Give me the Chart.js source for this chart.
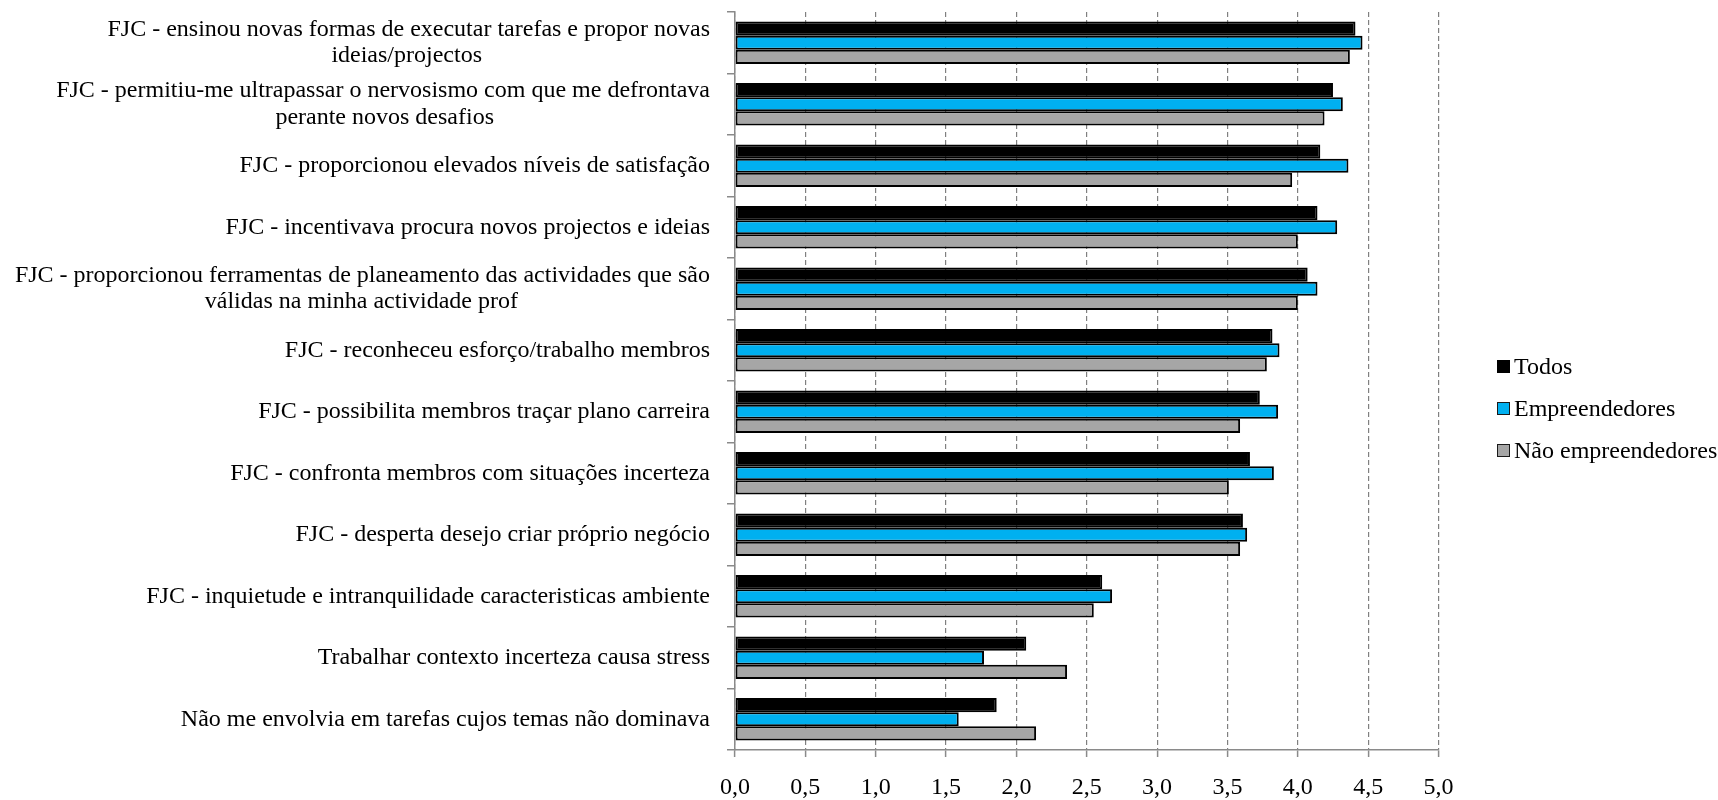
<!DOCTYPE html>
<html>
<head>
<meta charset="utf-8">
<script src="https://cdn.jsdelivr.net/npm/chart.js@4.4.1/dist/chart.umd.min.js"></script>
<style>
html,body{margin:0;padding:0;background:#fff;}
#wrap{position:relative;width:1718px;height:800px;}
#legend{position:absolute;left:1497px;top:345px;font-family:"Liberation Serif","Times New Roman",serif;font-size:24px;color:#000;}
.item{display:flex;align-items:center;height:42px;white-space:nowrap;}
.sw{width:13px;height:13px;box-sizing:border-box;border:1.5px solid #1a1a1a;margin-right:4px;flex:none;}
</style>
</head>
<body>
<div id="wrap"><canvas id="c" width="1718" height="800"></canvas><div id="legend"></div></div>
<script>
const categories = [
  ["FJC - ensinou novas formas de executar tarefas e propor novas", "ideias/projectos"],
  ["FJC - permitiu-me ultrapassar o nervosismo com que me defrontava", "perante novos desafios"],
  ["FJC - proporcionou elevados níveis de satisfação"],
  ["FJC - incentivava procura novos projectos e ideias"],
  ["FJC - proporcionou ferramentas de planeamento das actividades que são", "válidas na minha actividade prof"],
  ["FJC - reconheceu esforço/trabalho membros"],
  ["FJC - possibilita membros traçar plano carreira"],
  ["FJC - confronta membros com situações incerteza"],
  ["FJC - desperta desejo criar próprio negócio"],
  ["FJC - inquietude e intranquilidade caracteristicas ambiente"],
  ["Trabalhar contexto incerteza causa stress"],
  ["Não me envolvia em tarefas cujos temas não dominava"]
];
const seriesNames = ["Todos", "Empreendedores", "Não empreendedores"];
const todos = [4.41, 4.25, 4.16, 4.14, 4.07, 3.82, 3.73, 3.66, 3.61, 2.61, 2.07, 1.86];
const empreendedores = [4.46, 4.32, 4.36, 4.28, 4.14, 3.87, 3.86, 3.83, 3.64, 2.68, 1.77, 1.59];
const naoEmpreendedores = [4.37, 4.19, 3.96, 4.00, 4.00, 3.78, 3.59, 3.51, 3.59, 2.55, 2.36, 2.14];
const xMin = 0, xMax = 5, xStep = 0.5;

const FONT = '"Liberation Serif", "Times New Roman", serif';
const colors = ['#000000', '#00B0F0', '#A6A6A6'];

const mctx = document.createElement('canvas').getContext('2d');
mctx.font = '24px ' + FONT;
const spaceW = mctx.measureText('\u00A0').width || 6;
function centerLines(lines) {
  const widths = lines.map(l => mctx.measureText(l).width);
  const maxW = Math.max(...widths);
  return lines.map((l, i) => l + '\u00A0'.repeat(Math.max(0, Math.round((maxW - widths[i]) / 2 / spaceW))));
}

const seriesData = [todos, empreendedores, naoEmpreendedores];
const datasets = seriesNames.map((name, i) => ({
  label: name,
  data: seriesData[i],
  backgroundColor: colors[i],
  borderColor: '#000000',
  borderWidth: 2,
  borderSkipped: false,
  categoryPercentage: 0.69,
  barPercentage: 1.0
}));

Chart.defaults.font.family = FONT;
Chart.defaults.font.size = 24;
Chart.defaults.color = '#000';

new Chart(document.getElementById('c'), {
  type: 'bar',
  data: { labels: categories.map(c => c.join(' ')), datasets },
  options: {
    indexAxis: 'y',
    responsive: false,
    animation: false,
    layout: { padding: { left: 0, right: 279.5, top: 12, bottom: 0 } },
    plugins: { legend: { display: false }, tooltip: { enabled: false } },
    scales: {
      x: {
        min: xMin, max: xMax,
        ticks: {
          stepSize: xStep,
          autoSkip: false,
          maxRotation: 0,
          padding: 19,
          font: { size: 24, lineHeight: 1 },
          callback: v => Number(v).toFixed(1).replace('.', ',')
        },
        grid: { color: '#808080', lineWidth: 1.2, tickLength: 7, tickColor: '#8a8a8a', tickWidth: 1.5 },
        border: { display: true, color: '#8a8a8a', width: 1.5, dash: [5, 3] },
        afterFit: s => { s.height = 50; s.paddingLeft = 0; s.paddingRight = 0; }
      },
      y: {
        ticks: {
          autoSkip: false,
          padding: 17,
          font: { size: 24, lineHeight: 1.12 },
          callback: function (value, index) { return centerLines(categories[index]); }
        },
        grid: { offset: true, drawOnChartArea: false, tickLength: 8, color: '#8a8a8a', lineWidth: 1.5 },
        border: { display: true, color: '#8a8a8a', width: 1.5 },
        afterFit: s => { s.width = 735; s.paddingTop = 0; s.paddingBottom = 0; }
      }
    }
  }
});

const leg = document.getElementById('legend');
datasets.forEach(ds => {
  const it = document.createElement('div');
  it.className = 'item';
  const sw = document.createElement('span');
  sw.className = 'sw';
  sw.style.background = ds.backgroundColor;
  if (ds.backgroundColor === '#000000') sw.style.borderColor = '#000';
  const tx = document.createElement('span');
  tx.textContent = ds.label;
  it.appendChild(sw); it.appendChild(tx);
  leg.appendChild(it);
});
</script>
</body>
</html>
